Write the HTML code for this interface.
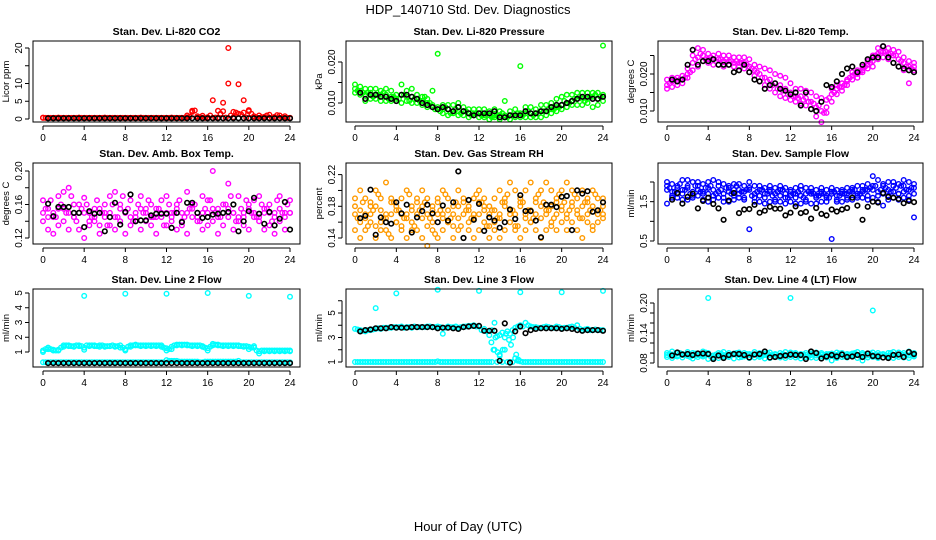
<!DOCTYPE html>
<html><head><meta charset="utf-8"><title>HDP_140710 Std. Dev. Diagnostics</title>
<style>
html,body{margin:0;padding:0;background:#fff;}
svg{display:block;font-family:"Liberation Sans",sans-serif;}
</style></head>
<body>
<svg id="chart" width="936" height="540" viewBox="0 0 936 540" xmlns="http://www.w3.org/2000/svg">
<text x="468" y="14" font-size="13" text-anchor="middle">HDP_140710  Std. Dev. Diagnostics</text>
<text x="468" y="531" font-size="13" text-anchor="middle">Hour of Day (UTC)</text>
</svg>
<script>
// ---------- data ----------
const hours = [0,0.5,1,1.5,2,2.5,3,3.5,4,4.5,5,5.5,6,6.5,7,7.5,8,8.5,9,9.5,10,10.5,11,11.5,12,12.5,13,13.5,14,14.5,15,15.5,16,16.5,17,17.5,18,18.5,19,19.5,20,20.5,21,21.5,22,22.5,23,23.5,24];
const hours2 = [0.25,0.75,1.25,1.75,2.25,2.75,3.25,3.75,4.25,4.75,5.25,5.75,6.25,6.75,7.25,7.75,8.25,8.75,9.25,9.75,10.25,10.75,11.25,11.75,12.25,12.75,13.25,13.75,14.25,14.75,15.25,15.75,16.25,16.75,17.25,17.75,18.25,18.75,19.25,19.75,20.25,20.75,21.25,21.75,22.25,22.75,23.25,23.75];
const xTicks = [0,4,8,12,16,20,24];

// CO2
const co2A = [0.4,0.3,0.3,0.4,0.3,0.3,0.3,0.4,0.3,0.3,0.3,0.3,0.4,0.3,0.3,0.3,0.3,0.3,0.3,0.4,0.3,0.3,0.3,0.3,0.3,0.4,0.3,0.3,1.0,2.3,0.8,0.9,0.5,5.3,2.3,4.6,20,2.0,1.5,1.8,2.2,0.8,1.0,0.6,1.2,0.6,1.0,0.8,0.3];
const co2B = [0.3,0.3,0.3,0.3,0.3,0.3,0.3,0.3,0.3,0.3,0.3,0.3,0.3,0.3,0.3,0.3,0.3,0.3,0.3,0.3,0.3,0.3,0.3,0.3,0.3,0.3,0.3,0.3,0.5,2.0,0.4,0.3,0.3,0.3,0.4,2.2,10,0.5,9.8,5.3,2.5,0.4,0.3,0.4,0.3,0.3,0.3,0.3,0.3];
const co2D = [0.3,0.3,0.3,0.3,0.3,0.3,0.3,0.3,0.3,0.3,0.3,0.3,0.3,0.3,0.3,0.3,0.3,0.3,0.3,0.3,0.3,0.3,0.3,0.3,0.3,0.3,0.3,0.3,0.6,2.4,0.5,0.3,1.0,0.4,1.5,0.4,1.0,1.8,1.3,0.4,1.5,0.4,0.5,1.0,0.4,1.1,0.4,0.3];
const co2K = [null,0.2,0.2,0.2,0.2,0.2,0.2,0.2,0.2,0.2,0.2,0.2,0.2,0.2,0.2,0.2,0.2,0.2,0.2,0.2,0.2,0.2,0.2,0.2,0.2,0.2,0.2,0.2,0.2,0.2,0.2,0.2,0.2,0.2,0.2,0.2,0.2,0.2,0.2,0.2,0.2,0.2,0.2,0.2,0.2,0.2,0.2,0.2,0.2];
// Pressure
const prA = [0.0145,0.014,0.0135,0.0135,0.0135,0.013,0.0135,0.013,0.012,0.0145,0.013,0.0135,0.012,0.0115,0.011,0.013,0.022,0.0095,0.0095,0.0095,0.010,0.009,0.0085,0.0085,0.0085,0.0085,0.008,0.0085,0.008,0.0105,0.008,0.0085,0.019,0.009,0.009,0.0085,0.0095,0.0095,0.010,0.011,0.0115,0.012,0.012,0.0125,0.0125,0.0125,0.0125,0.0125,0.024];
const prB = [0.0125,0.012,0.0105,0.011,0.011,0.0105,0.0105,0.0105,0.0105,0.010,0.0105,0.010,0.010,0.0095,0.009,0.009,0.0085,0.0075,0.007,0.0075,0.007,0.007,0.0065,0.007,0.0065,0.0065,0.006,0.0065,0.006,0.0065,0.006,0.0065,0.0065,0.0065,0.0065,0.0065,0.0065,0.007,0.0075,0.008,0.0085,0.009,0.0095,0.0095,0.0095,0.010,0.009,0.0095,0.0105];
const prC = [0.0135,0.013,0.012,0.0125,0.012,0.012,0.012,0.0115,0.011,0.012,0.0115,0.0115,0.011,0.0105,0.010,0.0095,0.009,0.0085,0.0085,0.008,0.008,0.008,0.0075,0.0075,0.0075,0.007,0.007,0.007,0.007,0.007,0.007,0.007,0.0075,0.0075,0.0075,0.0075,0.008,0.008,0.0085,0.009,0.0095,0.010,0.0105,0.011,0.011,0.011,0.0115,0.011,0.012];
const prD = [0.013,0.0125,0.0125,0.0115,0.012,0.0125,0.011,0.0115,0.011,0.012,0.0105,0.011,0.0105,0.0115,0.010,0.0085,0.008,0.009,0.0075,0.0085,0.0075,0.008,0.007,0.0075,0.007,0.0075,0.0065,0.007,0.0075,0.0065,0.007,0.0075,0.007,0.008,0.007,0.0075,0.008,0.0085,0.0085,0.009,0.0105,0.010,0.011,0.0115,0.0105,0.0115,0.012,0.0115];
const prK = [null,0.0125,0.011,0.012,0.012,0.0115,0.0115,0.011,0.0105,0.012,0.012,0.0115,0.011,0.010,0.0095,0.009,0.0085,0.009,0.0085,0.008,0.009,0.008,0.0075,0.007,0.0075,0.0075,0.0075,0.008,0.0065,0.0065,0.007,0.007,0.007,0.008,0.0075,0.0075,0.008,0.008,0.009,0.0095,0.0095,0.010,0.0105,0.011,0.0115,0.0115,0.011,0.011,0.0115];
// Li-820 temp
const tmA = [0.0185,0.019,0.019,0.0195,0.0215,0.025,0.027,0.0265,0.0255,0.025,0.0255,0.025,0.025,0.0245,0.0245,0.0245,0.024,0.0225,0.022,0.0215,0.021,0.020,0.0195,0.019,0.0175,0.016,0.016,0.0155,0.015,0.014,0.0135,0.013,0.016,0.017,0.0175,0.0185,0.0205,0.021,0.022,0.0235,0.025,0.027,0.0275,0.027,0.0265,0.026,0.0245,0.0235,0.023];
const tmB = [0.016,0.0165,0.017,0.0175,0.019,0.021,0.022,0.0235,0.023,0.0225,0.0225,0.022,0.0225,0.022,0.022,0.0215,0.0205,0.0195,0.018,0.017,0.016,0.015,0.014,0.0135,0.013,0.0125,0.012,0.0115,0.0105,0.0085,0.007,0.0095,0.0125,0.0145,0.0155,0.017,0.0185,0.019,0.0205,0.0215,0.022,0.024,0.0245,0.024,0.023,0.022,0.021,0.0175,0.021];
const tmC = [0.017,0.018,0.018,0.0185,0.020,0.023,0.0245,0.025,0.024,0.024,0.024,0.0235,0.0235,0.023,0.023,0.023,0.022,0.021,0.020,0.019,0.0185,0.0175,0.017,0.016,0.015,0.014,0.014,0.0135,0.0125,0.011,0.010,0.011,0.0145,0.016,0.0165,0.018,0.0195,0.020,0.021,0.0225,0.0235,0.0255,0.026,0.0255,0.025,0.024,0.023,0.022,0.022];
const tmD = [0.0175,0.0185,0.0185,0.019,0.0205,0.024,0.0255,0.024,0.0245,0.0235,0.024,0.024,0.0235,0.0235,0.023,0.0225,0.0215,0.0205,0.019,0.018,0.017,0.016,0.0155,0.0145,0.014,0.0135,0.013,0.0125,0.012,0.0115,0.0095,0.0135,0.015,0.0165,0.017,0.019,0.020,0.0205,0.022,0.023,0.025,0.026,0.026,0.0255,0.025,0.0235,0.022,0.0215];
const tmK = [null,0.0185,0.018,0.0185,0.0225,0.0265,0.0225,0.0235,0.0235,0.024,0.0225,0.0225,0.0225,0.0205,0.021,0.0225,0.0205,0.0185,0.018,0.016,0.017,0.0175,0.016,0.0155,0.0145,0.015,0.0115,0.015,0.0105,0.010,0.0125,0.017,0.0165,0.018,0.020,0.0215,0.022,0.0205,0.0225,0.024,0.0245,0.0245,0.0275,0.0245,0.023,0.022,0.0215,0.021,0.0205];
// Amb box temp
const abA = [.165,.155,.145,.170,.175,.180,.160,.150,.168,.140,.155,.135,.160,.170,.175,.160,.150,.165,.140,.170,.155,.160,.145,.165,.170,.150,.160,.140,.175,.160,.150,.170,.165,.200,.155,.160,.185,.150,.170,.145,.160,.165,.170,.150,.160,.150,.170,.145,.165];
const abB = [.140,.130,.125,.135,.140,.130,.145,.130,.120,.135,.140,.125,.145,.135,.130,.140,.125,.135,.145,.130,.140,.135,.125,.145,.135,.140,.130,.135,.125,.145,.140,.130,.135,.140,.125,.135,.145,.130,.140,.135,.130,.145,.140,.130,.135,.125,.140,.130,.150];
const abC = [.150,.145,.150,.155,.155,.150,.145,.160,.150,.150,.145,.155,.150,.150,.145,.155,.150,.145,.150,.155,.150,.145,.155,.150,.150,.145,.155,.150,.150,.155,.145,.150,.150,.155,.145,.150,.155,.150,.145,.150,.155,.150,.145,.155,.150,.145,.155,.150,.150];
const abD = [.155,.165,.145,.160,.150,.170,.140,.155,.160,.145,.165,.150,.135,.160,.145,.170,.155,.140,.160,.150,.165,.145,.155,.135,.160,.150,.165,.145,.155,.160,.140,.155,.165,.150,.145,.160,.170,.140,.155,.165,.150,.145,.160,.155,.140,.165,.150,.160];
const abK = [null,.161,.146,.157,.157,.157,.150,.150,.133,.152,.149,.150,.128,.145,.162,.136,.151,.172,.140,.141,.141,.147,.149,.149,.149,.132,.150,.139,.162,.162,.150,.144,.145,.148,.149,.150,.151,.160,.128,.140,.152,.168,.149,.137,.151,.135,.143,.163,.130];
// Gas stream RH
const rhA = [.19,.20,.19,.18,.20,.19,.21,.19,.18,.19,.20,.18,.19,.20,.19,.18,.19,.20,.19,.18,.20,.19,.18,.19,.20,.19,.18,.19,.20,.19,.21,.20,.19,.20,.21,.19,.20,.21,.20,.19,.20,.21,.20,.19,.20,.19,.20,.19,.19];
const rhB = [.15,.14,.15,.16,.14,.15,.15,.14,.16,.15,.14,.15,.15,.14,.13,.15,.14,.15,.16,.14,.15,.14,.15,.14,.15,.16,.14,.15,.14,.15,.16,.15,.14,.15,.16,.15,.14,.15,.16,.15,.16,.15,.16,.15,.14,.16,.15,.16,.17];
const rhC = [.17,.16,.17,.17,.18,.16,.17,.17,.16,.17,.17,.16,.17,.18,.17,.16,.17,.17,.16,.17,.18,.17,.16,.17,.17,.18,.17,.16,.17,.18,.17,.17,.18,.17,.16,.17,.18,.17,.18,.17,.18,.17,.18,.17,.18,.17,.18,.17,.18];
const rhD = [.18,.175,.165,.185,.155,.175,.165,.185,.175,.155,.165,.175,.185,.165,.155,.175,.185,.165,.175,.155,.165,.185,.175,.165,.185,.175,.155,.175,.165,.185,.175,.155,.185,.165,.175,.185,.165,.175,.155,.185,.175,.165,.185,.175,.165,.185,.155,.175,.165];
const rhE = [.165,.185,.155,.175,.195,.165,.145,.185,.175,.165,.195,.155,.175,.185,.165,.145,.175,.195,.165,.185,.155,.175,.165,.195,.185,.155,.175,.165,.185,.195,.175,.155,.185,.175,.165,.195,.185,.175,.165,.195,.185,.175,.195,.165,.185,.175,.195,.175];
const rhK = [null,.165,.168,.201,.144,.166,.160,.158,.185,.171,.182,.147,.166,.174,.182,.171,.160,.181,.162,.185,.224,.140,.188,.163,.183,.149,.166,.162,.153,.160,.176,.164,.194,.174,.174,.162,.141,.182,.182,.179,.192,.193,.150,.200,.196,.199,.173,.175,.185];
// Sample flow
const sfA = [2.0,1.95,1.9,2.05,2.05,2.0,2.0,1.95,2.0,2.05,2.0,1.95,1.9,1.95,1.95,1.9,2.0,1.9,1.9,1.85,1.9,1.85,1.9,1.85,1.8,1.85,1.9,1.85,1.85,1.8,1.85,1.8,1.85,1.8,1.8,1.85,1.85,1.9,1.9,1.95,2.15,2.05,1.95,2.0,2.0,1.95,2.05,2.0,1.95];
const sfB = [1.45,1.6,1.6,1.55,1.55,1.6,1.65,1.55,1.5,1.55,1.6,1.5,1.5,1.55,1.6,1.55,0.8,1.5,1.5,1.45,1.5,1.5,1.5,1.45,1.5,1.45,1.45,1.5,1.45,1.45,1.5,1.5,0.55,1.5,1.5,1.55,1.55,1.6,1.6,1.55,1.6,1.5,1.4,1.55,1.6,1.55,1.6,1.55,1.1];
const sfC = [1.8,1.75,1.7,1.8,1.85,1.75,1.8,1.75,1.7,1.8,1.75,1.7,1.75,1.8,1.7,1.75,1.8,1.7,1.65,1.7,1.75,1.7,1.65,1.7,1.65,1.7,1.65,1.7,1.7,1.65,1.7,1.65,1.7,1.65,1.7,1.7,1.75,1.7,1.75,1.8,1.8,1.75,1.7,1.8,1.75,1.7,1.75,1.8,1.7];
const sfD = [1.9,1.65,1.85,1.7,1.9,1.65,1.9,1.7,1.85,1.65,1.9,1.6,1.85,1.65,1.8,1.6,1.85,1.6,1.8,1.6,1.8,1.55,1.8,1.6,1.75,1.6,1.8,1.55,1.75,1.6,1.75,1.6,1.75,1.55,1.75,1.6,1.8,1.65,1.8,1.65,1.9,1.65,1.9,1.65,1.9,1.7,1.9,1.65,1.85];
const sfE = [1.85,1.75,1.95,1.8,1.7,1.9,1.75,1.85,1.9,1.7,1.8,1.85,1.7,1.9,1.75,1.8,1.65,1.75,1.8,1.7,1.65,1.75,1.8,1.6,1.7,1.75,1.6,1.75,1.7,1.65,1.7,1.6,1.75,1.65,1.7,1.75,1.8,1.7,1.8,1.85,1.9,1.8,1.85,1.75,1.85,1.9,1.8,1.85];
const sfK = [null,1.55,1.72,1.45,1.62,1.70,1.33,1.52,1.60,1.44,1.33,1.04,1.53,1.72,1.21,1.30,1.31,1.42,1.22,1.27,1.37,1.32,1.32,1.15,1.22,1.38,1.21,1.24,1.07,1.34,1.19,1.15,1.30,1.25,1.30,1.34,1.60,1.40,1.04,1.37,1.50,1.48,1.72,1.62,1.60,1.57,1.46,1.52,1.49];
// Line 2 flow
const l2A = [1.1,1.3,1.15,1.15,1.45,1.45,1.4,1.45,1.15,1.45,1.45,1.45,1.4,1.4,1.4,1.45,1.1,1.45,1.5,1.45,1.45,1.45,1.45,1.45,1.1,1.35,1.5,1.5,1.5,1.45,1.45,1.4,1.1,1.55,1.5,1.45,1.45,1.45,1.45,1.4,1.2,1.4,0.9,1.1,1.1,1.1,1.1,1.1,1.1];
const l2B = [1.0,1.2,1.1,1.1,1.35,1.4,1.35,1.4,1.3,1.4,1.4,1.35,1.35,1.4,1.35,1.3,1.2,1.35,1.45,1.4,1.4,1.4,1.4,1.35,1.25,1.2,1.45,1.45,1.45,1.4,1.4,1.35,1.25,1.45,1.45,1.4,1.4,1.4,1.4,1.35,1.35,1.3,1.05,1.05,1.05,1.05,1.05,1.05,1.05];
const l2C = [0.3,0.3,0.3,0.3,0.3,0.3,0.3,0.3,0.3,0.3,0.3,0.3,0.3,0.3,0.3,0.3,0.3,0.3,0.3,0.3,0.3,0.3,0.3,0.3,0.45,0.4,0.4,0.35,0.35,0.35,0.35,0.3,0.35,0.35,0.35,0.35,0.35,0.35,0.4,0.3,0.3,0.3,0.3,0.3,0.3,0.3,0.3,0.3,0.3];
const l2D = [1.2,1.2,1.1,1.3,1.45,1.4,1.45,1.4,1.45,1.45,1.4,1.45,1.4,1.45,1.4,1.3,1.35,1.45,1.45,1.45,1.45,1.45,1.45,1.3,1.2,1.45,1.5,1.5,1.45,1.45,1.45,1.3,1.35,1.5,1.45,1.45,1.45,1.45,1.4,1.4,1.3,1.1,1.1,1.1,1.1,1.1,1.1,1.1];
const l2E = [0.3,0.3,0.3,0.3,0.3,0.3,0.3,0.3,0.3,0.3,0.3,0.3,0.3,0.3,0.3,0.3,0.3,0.3,0.3,0.3,0.3,0.3,0.3,0.3,0.4,0.4,0.35,0.35,0.35,0.35,0.3,0.35,0.35,0.35,0.35,0.35,0.35,0.35,0.3,0.3,0.3,0.3,0.3,0.3,0.3,0.3,0.3,0.3];
const l2K = [null,0.25,0.25,0.25,0.25,0.25,0.25,0.25,0.25,0.25,0.25,0.25,0.25,0.25,0.25,0.25,0.25,0.25,0.25,0.25,0.25,0.25,0.25,0.25,0.25,0.25,0.25,0.25,0.25,0.25,0.25,0.25,0.25,0.25,0.25,0.25,0.25,0.25,0.25,0.25,0.25,0.25,0.25,0.25,0.25,0.25,0.25,0.25,0.25];
const l2OutH = [4,8,12,16,20,24];
const l2OutV = [4.8,4.95,4.95,5.0,4.8,4.75];
// Line 3 flow
const l3A = [3.7,3.6,3.5,3.6,3.7,3.7,3.8,3.8,3.85,3.9,3.85,3.8,3.85,3.85,3.9,3.85,3.9,3.3,3.9,3.85,3.8,3.9,3.95,4.0,3.9,3.7,3.2,4.2,3.2,3.0,3.3,3.8,4.0,4.2,3.9,3.85,3.8,3.9,3.8,3.9,3.75,3.8,3.9,4.0,3.6,3.7,3.6,3.6,3.6];
const l3B = [1.0,1.0,1.0,1.0,1.0,1.0,1.0,1.0,1.0,1.0,1.0,1.0,1.0,1.0,1.0,1.0,1.05,1.0,1.0,1.0,1.0,1.0,1.0,1.0,1.0,1.0,1.0,2.0,1.5,2.0,1.0,1.3,1.05,1.0,1.0,1.0,1.0,1.0,1.0,1.0,1.0,1.0,1.0,1.0,1.0,1.0,1.0,1.0,1.0];
const l3C = [3.65,3.55,3.6,3.65,3.75,3.8,3.8,3.85,3.85,3.8,3.85,3.9,3.85,3.85,3.9,3.85,3.85,3.8,3.85,3.9,3.85,3.9,3.95,3.9,3.6,3.5,3.6,3.1,3.4,3.5,3.6,3.9,3.9,4.0,3.85,3.8,3.85,3.85,3.8,3.85,3.8,3.85,3.8,3.7,3.65,3.6,3.65,3.6];
const l3D = [1.0,1.0,1.0,1.0,1.0,1.0,1.0,1.0,1.0,1.0,1.0,1.0,1.0,1.0,1.0,1.0,1.0,1.0,1.0,1.0,1.0,1.0,1.0,1.0,1.0,1.0,1.0,1.0,1.0,1.0,1.0,1.1,1.0,1.0,1.0,1.0,1.0,1.0,1.0,1.0,1.0,1.0,1.0,1.0,1.0,1.0,1.0,1.0];
const l3TransH = [13.2,13.4,13.6,13.8,14.0,14.3,14.6,14.9,15.1,15.3,15.6,15.8];
const l3TransV = [2.6,2.0,3.0,1.8,1.6,2.0,3.3,2.8,2.4,3.0,1.6,1.2];
const l3OutH = [2,4,8,12,16,20,24];
const l3OutV = [5.4,6.6,6.9,6.8,6.7,6.7,6.8];
const l3K = [null,3.5,3.6,3.65,3.75,3.75,3.75,3.85,3.8,3.8,3.8,3.85,3.85,3.85,3.85,3.85,3.75,3.8,3.8,3.75,3.7,3.85,3.9,3.95,3.95,3.55,3.55,3.55,1.1,4.15,0.95,3.5,3.9,3.35,3.6,3.7,3.75,3.75,3.75,3.75,3.7,3.75,3.7,3.6,3.55,3.6,3.6,3.6,3.55];
// Line 4 flow
const l4A = [0.100,0.103,0.100,0.098,0.102,0.100,0.099,0.103,0.100,0.095,0.100,0.102,0.100,0.099,0.101,0.100,0.098,0.102,0.100,0.099,0.101,0.098,0.100,0.102,0.101,0.100,0.098,0.100,0.099,0.101,0.100,0.098,0.099,0.101,0.100,0.098,0.099,0.102,0.100,0.099,0.101,0.100,0.098,0.100,0.102,0.101,0.100,0.103,0.100];
const l4B = [0.092,0.090,0.093,0.091,0.094,0.089,0.092,0.093,0.088,0.091,0.090,0.093,0.092,0.089,0.091,0.093,0.090,0.091,0.092,0.089,0.090,0.093,0.091,0.090,0.092,0.091,0.089,0.092,0.091,0.090,0.093,0.091,0.085,0.090,0.092,0.091,0.093,0.090,0.085,0.091,0.092,0.090,0.091,0.093,0.090,0.092,0.091,0.090,0.093];
const l4C = [0.096,0.097,0.095,0.096,0.097,0.095,0.096,0.096,0.097,0.095,0.096,0.096,0.095,0.097,0.096,0.095,0.096,0.097,0.095,0.096,0.096,0.097,0.095,0.096,0.096,0.097,0.095,0.096,0.096,0.095,0.097,0.096,0.095,0.096,0.097,0.095,0.096,0.096,0.097,0.095,0.096,0.096,0.097,0.095,0.096,0.097,0.096,0.095,0.096];
const l4D = [0.098,0.094,0.100,0.096,0.092,0.099,0.095,0.101,0.093,0.097,0.099,0.094,0.096,0.100,0.092,0.098,0.095,0.097,0.094,0.100,0.096,0.093,0.098,0.095,0.099,0.094,0.097,0.093,0.100,0.096,0.094,0.098,0.095,0.099,0.093,0.097,0.100,0.094,0.096,0.099,0.093,0.097,0.095,0.100,0.094,0.098,0.096,0.099];
const l4OutH = [4,12,20];
const l4OutV = [0.21,0.21,0.185];
const l4K = [null,.095,.101,.097,.098,.096,.099,.099,.098,.088,.095,.090,.096,.098,.098,.096,.091,.097,.098,.103,.091,.092,.094,.095,.097,.096,.096,.088,.103,.100,.089,.093,.096,.093,.097,.092,.093,.096,.092,.099,.094,.093,.091,.090,.096,.097,.092,.102,.098];

// ---------- drawing ----------
const NS = "http://www.w3.org/2000/svg";
const svg = document.getElementById('chart');
function mk(tag, parent){ const e=document.createElementNS(NS,tag); parent.appendChild(e); return e; }

const panels = [
 {id:'co2', title:'Stan. Dev. Li-820 CO2', ylab:'Licor ppm', box:[33,300,41,122], xr:[43,290], yv:[0,20], yp:[119,48], yt:[0,5,10,15,20], yl:['0','5','10','','20'],
  series:[{h:hours,v:co2A,c:'#ff0000'},{h:hours,v:co2B,c:'#ff0000'},{h:hours2,v:co2D,c:'#ff0000'},{h:hours,v:co2K,c:'#000000'}]},
 {id:'pressure', title:'Stan. Dev. Li-820 Pressure', ylab:'kPa', box:[346,612,41,122], xr:[355,603], yv:[0.010,0.020], yp:[103,62], yt:[0.010,0.015,0.020], yl:['0.010','','0.020'],
  series:[{h:hours,v:prA,c:'#00ff00'},{h:hours,v:prB,c:'#00ff00'},{h:hours,v:prC,c:'#00ff00'},{h:hours2,v:prD,c:'#00ff00'},{h:hours,v:prK,c:'#000000'}]},
 {id:'li820-temp', title:'Stan. Dev. Li-820 Temp.', ylab:'degrees C', box:[658,923,41,122], xr:[667,914], yv:[0.010,0.020], yp:[111,74], yt:[0.010,0.015,0.020,0.025], yl:['0.010','','0.020',''],
  series:[{h:hours,v:tmA,c:'#ff00ff'},{h:hours,v:tmB,c:'#ff00ff'},{h:hours,v:tmC,c:'#ff00ff'},{h:hours2,v:tmD,c:'#ff00ff'},{h:hours,v:tmK,c:'#000000'}]},
 {id:'amb-box-temp', title:'Stan. Dev. Amb. Box Temp.', ylab:'degrees C', box:[33,300,163,244], xr:[43,290], yv:[0.12,0.20], yp:[238,171], yt:[0.12,0.14,0.16,0.18,0.20], yl:['0.12','','0.16','','0.20'],
  series:[{h:hours,v:abA,c:'#ff00ff'},{h:hours,v:abB,c:'#ff00ff'},{h:hours,v:abC,c:'#ff00ff'},{h:hours2,v:abD,c:'#ff00ff'},{h:hours,v:abK,c:'#000000'}]},
 {id:'gas-stream-rh', title:'Stan. Dev. Gas Stream RH', ylab:'percent', box:[346,612,163,244], xr:[355,603], yv:[0.14,0.22], yp:[238,174.6], yt:[0.14,0.16,0.18,0.20,0.22], yl:['0.14','','0.18','','0.22'],
  series:[{h:hours,v:rhA,c:'#ff9a00'},{h:hours,v:rhB,c:'#ff9a00'},{h:hours,v:rhC,c:'#ff9a00'},{h:hours,v:rhD,c:'#ff9a00'},{h:hours2,v:rhE,c:'#ff9a00'},{h:hours,v:rhK,c:'#000000'}]},
 {id:'sample-flow', title:'Stan. Dev. Sample Flow', ylab:'ml/min', box:[658,923,163,244], xr:[667,914], yv:[0.5,2.0], yp:[241,182], yt:[0.5,1.0,1.5,2.0], yl:['0.5','','1.5',''],
  series:[{h:hours,v:sfA,c:'#0000ff'},{h:hours,v:sfB,c:'#0000ff'},{h:hours,v:sfC,c:'#0000ff'},{h:hours,v:sfD,c:'#0000ff'},{h:hours2,v:sfE,c:'#0000ff'},{h:hours,v:sfK,c:'#000000'}]},
 {id:'line2-flow', title:'Stan. Dev. Line 2 Flow', ylab:'ml/min', box:[33,300,289,367], xr:[43,290], yv:[1,5], yp:[352,293], yt:[1,2,3,4,5], yl:['1','2','3','4','5'],
  series:[{h:hours,v:l2A,c:'#00ffff'},{h:hours,v:l2B,c:'#00ffff'},{h:hours,v:l2C,c:'#00ffff'},{h:hours2,v:l2D,c:'#00ffff'},{h:hours2,v:l2E,c:'#00ffff'},{h:l2OutH,v:l2OutV,c:'#00ffff'},{h:hours,v:l2K,c:'#000000'}]},
 {id:'line3-flow', title:'Stan. Dev. Line 3 Flow', ylab:'ml/min', box:[346,612,289,367], xr:[355,603], yv:[1,5], yp:[362,313], yt:[1,2,3,4,5,6], yl:['1','','3','','5',''],
  series:[{h:hours,v:l3A,c:'#00ffff'},{h:hours,v:l3B,c:'#00ffff'},{h:hours2,v:l3C,c:'#00ffff'},{h:hours2,v:l3D,c:'#00ffff'},{h:l3TransH,v:l3TransV,c:'#00ffff'},{h:l3OutH,v:l3OutV,c:'#00ffff'},{h:hours,v:l3K,c:'#000000'}]},
 {id:'line4-flow', title:'Stan. Dev. Line 4 (LT) Flow', ylab:'ml/min', box:[658,923,289,367], xr:[667,914], yv:[0.08,0.20], yp:[363,303], yt:[0.08,0.10,0.12,0.14,0.16,0.18,0.20], yl:['0.08','','','0.14','','','0.20'],
  series:[{h:hours,v:l4A,c:'#00ffff'},{h:hours,v:l4B,c:'#00ffff'},{h:hours,v:l4C,c:'#00ffff'},{h:hours2,v:l4D,c:'#00ffff'},{h:l4OutH,v:l4OutV,c:'#00ffff'},{h:hours,v:l4K,c:'#000000'}]}
];

panels.forEach(p=>{
  const g = mk('g', svg);
  
  
  const [bx0,bx1,by0,by1] = p.box;
  const xs = h => p.xr[0] + (h/24)*(p.xr[1]-p.xr[0]);
  const ys = v => p.yp[0] + (v-p.yv[0])/(p.yv[1]-p.yv[0])*(p.yp[1]-p.yp[0]);

  const t = mk('text', g);
  
  
  t.setAttribute('x', (bx0+bx1)/2); t.setAttribute('y', by0-6);
  t.setAttribute('font-size','10.5'); t.setAttribute('font-weight','bold'); t.setAttribute('text-anchor','middle');
  t.textContent = p.title;

  const pg = mk('g', g);
  
  
  p.series.forEach(s=>{
    const n = Math.min(s.h.length, s.v.length);
    for(let i=0;i<n;i++){
      const v = s.v[i]; if(v==null) continue;
      const c = mk('circle', pg);
      
      
      c.setAttribute('cx', xs(s.h[i]).toFixed(1));
      c.setAttribute('cy', ys(v).toFixed(1));
      c.setAttribute('r', '2.3');
      c.setAttribute('fill','none');
      c.setAttribute('stroke', s.c);
      c.setAttribute('stroke-width', s.c==='#000000' ? '1.6' : '1.4');
    }
  });

  const r = mk('rect', g);
  
  
  r.setAttribute('x', bx0); r.setAttribute('y', by0);
  r.setAttribute('width', bx1-bx0); r.setAttribute('height', by1-by0);
  r.setAttribute('fill','none'); r.setAttribute('stroke','#000'); r.setAttribute('stroke-width','1');

  const xa = mk('g', g);
  
  
  const xl = mk('line', xa);
  xl.setAttribute('x1', xs(0)); xl.setAttribute('x2', xs(24));
  xl.setAttribute('y1', by1+4); xl.setAttribute('y2', by1+4);
  xl.setAttribute('stroke','#000');
  xTicks.forEach(h=>{
    const tk = mk('line', xa);
    tk.setAttribute('x1', xs(h)); tk.setAttribute('x2', xs(h));
    tk.setAttribute('y1', by1+4); tk.setAttribute('y2', by1+8);
    tk.setAttribute('stroke','#000');
    const tl = mk('text', xa);
    
    
    tl.setAttribute('x', xs(h)); tl.setAttribute('y', by1+19);
    tl.setAttribute('font-size','10'); tl.setAttribute('text-anchor','middle');
    tl.textContent = String(h);
  });

  const ya = mk('g', g);
  
  
  const ax = bx0-4;
  const yl0 = mk('line', ya);
  yl0.setAttribute('x1', ax); yl0.setAttribute('x2', ax);
  yl0.setAttribute('y1', ys(p.yt[0])); yl0.setAttribute('y2', ys(p.yt[p.yt.length-1]));
  yl0.setAttribute('stroke','#000');
  p.yt.forEach((v,i)=>{
    const yy = ys(v);
    const tk = mk('line', ya);
    tk.setAttribute('x1', ax-4); tk.setAttribute('x2', ax);
    tk.setAttribute('y1', yy); tk.setAttribute('y2', yy);
    tk.setAttribute('stroke','#000');
    if(p.yl[i]){
      const tl = mk('text', ya);
      
      
      tl.setAttribute('x', ax-7); tl.setAttribute('y', yy);
      tl.setAttribute('font-size','10'); tl.setAttribute('text-anchor','middle');
      tl.setAttribute('transform', 'rotate(-90 '+(ax-7)+' '+yy+')');
      tl.textContent = p.yl[i];
    }
  });
  const yt = mk('text', ya);
  
  
  const tx = bx0-24, ty = (by0+by1)/2;
  yt.setAttribute('x', tx); yt.setAttribute('y', ty);
  yt.setAttribute('font-size','9.5'); yt.setAttribute('text-anchor','middle');
  yt.setAttribute('transform','rotate(-90 '+tx+' '+ty+')');
  yt.textContent = p.ylab;
});
</script>
</body></html>
